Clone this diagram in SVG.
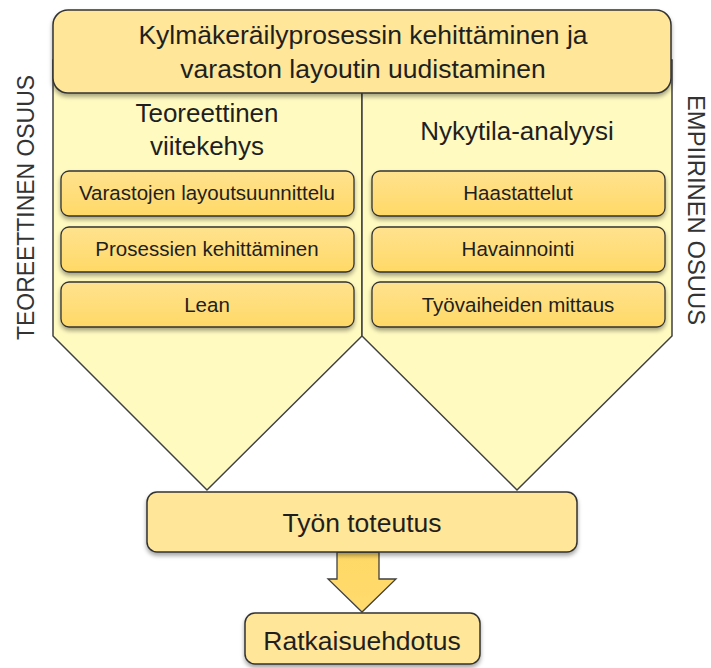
<svg xmlns="http://www.w3.org/2000/svg" width="711" height="668" viewBox="0 0 711 668">
<defs>
<linearGradient id="gBox" x1="0" y1="0" x2="0" y2="1">
<stop offset="0" stop-color="#FFE28F"/>
<stop offset="1" stop-color="#FFD966"/>
</linearGradient>
<linearGradient id="gArrow" x1="0" y1="0" x2="0" y2="1">
<stop offset="0" stop-color="#FFD966"/>
<stop offset="1" stop-color="#FFDB6E"/>
</linearGradient>
<filter id="sh" x="-10%" y="-10%" width="120%" height="140%">
<feDropShadow dx="0" dy="3" stdDeviation="2" flood-color="#000" flood-opacity="0.35"/>
</filter>
</defs>
<style>
text{font-family:"Liberation Sans",Arial,sans-serif;fill:#1f1f1f;text-anchor:middle}
.pent{fill:#FFFAC0;stroke:#404040;stroke-width:1.5}
.main{fill:#FFE699;stroke:#333;stroke-width:1.5;filter:url(#sh)}
.item{fill:url(#gBox);stroke:#333;stroke-width:1.3;filter:url(#sh)}
.big{font-size:26.5px}
.head{font-size:26px}
.it{font-size:20.5px}
.side{font-size:24px;fill:#333}
</style>
<rect width="711" height="668" fill="#fff"/>
<g id="left-column">
<path class="pent" d="M53,60 L362,60 L362,336 L207,490 L53,336 Z"/>
<text class="head" x="207" y="122">Teoreettinen</text>
<text class="head" x="207" y="155">viitekehys</text>
</g>
<g id="right-column">
<path class="pent" d="M362,60 L672,60 L672,336 L517,490 L362,336 Z"/>
<text class="head" x="517" y="140">Nykytila-analyysi</text>
</g>
<g id="top">
<rect class="main" x="53" y="10" width="618" height="83" rx="15"/>
<text class="big" x="363" y="44">Kylmäkeräilyprosessin kehittäminen ja</text>
<text class="big" x="363" y="78">varaston layoutin uudistaminen</text>
</g>
<g id="l1"><rect class="item" x="61" y="171" width="293" height="45" rx="8"/><text class="it" x="207" y="200">Varastojen layoutsuunnittelu</text></g>
<g id="l2"><rect class="item" x="61" y="227" width="293" height="45" rx="8"/><text class="it" x="207" y="256">Prosessien kehittäminen</text></g>
<g id="l3"><rect class="item" x="61" y="282" width="293" height="45" rx="8"/><text class="it" x="207" y="312">Lean</text></g>
<g id="r1"><rect class="item" x="372" y="171" width="293" height="45" rx="8"/><text class="it" x="518" y="200">Haastattelut</text></g>
<g id="r2"><rect class="item" x="372" y="227" width="293" height="45" rx="8"/><text class="it" x="518" y="256">Havainnointi</text></g>
<g id="r3"><rect class="item" x="372" y="282" width="293" height="45" rx="8"/><text class="it" x="518" y="312">Työvaiheiden mittaus</text></g>
<g id="connectors">
<path d="M337,552 L379,552 L379,579 L396,579 L362,612 L328,579 L337,579 Z" fill="url(#gArrow)" stroke="#404040" stroke-width="1.3"/>
</g>
<g id="toteutus">
<rect class="main" x="147" y="492" width="430" height="60" rx="10"/>
<text class="big" x="362" y="532">Työn toteutus</text>
</g>
<g id="ratkaisu">
<rect class="main" x="245" y="613" width="235" height="51" rx="10"/>
<text class="big" x="362" y="650">Ratkaisuehdotus</text>
</g>
<g id="side-labels">
<text class="side" transform="translate(34,207.5) rotate(-90)" textLength="265" lengthAdjust="spacingAndGlyphs">TEOREETTINEN OSUUS</text>
<text class="side" transform="translate(688,210) rotate(90)" textLength="230" lengthAdjust="spacingAndGlyphs">EMPIIRINEN OSUUS</text>
</g>
</svg>
